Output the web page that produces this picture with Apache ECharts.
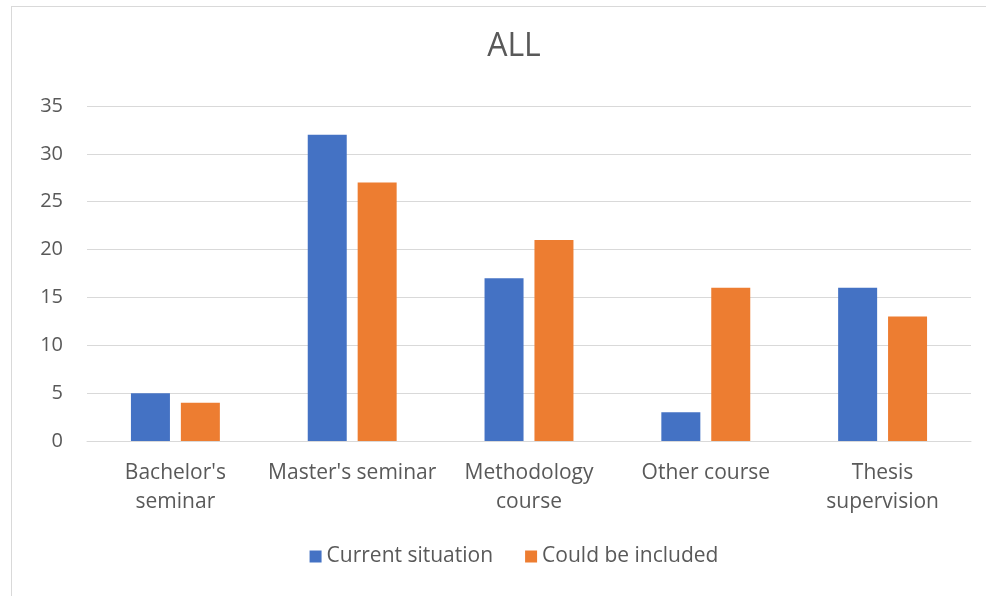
<!DOCTYPE html>
<html><head><meta charset="utf-8">
<script src="https://cdn.jsdelivr.net/npm/echarts@6/dist/echarts.min.js"></script>
<style>
html,body{margin:0;padding:0;background:#fff;overflow:hidden;width:986px;height:596px;}
#frame{position:absolute;left:11px;top:6px;width:1000px;height:620px;border:1px solid #d9d9d9;box-sizing:border-box;}
#c{position:absolute;left:0;top:0;width:1028px;height:596px;}
</style></head>
<body>
<div id="frame"></div>
<div id="c"></div>
<script>
const categories = ["Bachelor's\nseminar", "Master's seminar", "Methodology\ncourse", "Other course", "Thesis\nsupervision"];
const currentSituation = [5, 32, 17, 3, 16];
const couldBeIncluded = [4, 27, 21, 16, 13];
const seriesNames = ["Current situation", "Could be included"];
const txt = '#595959';
const font = '"Open Sans", "Noto Sans", sans-serif';
const chart = echarts.init(document.getElementById('c'));
chart.setOption({
  backgroundColor: 'transparent',
  animation: false,
  title: {text: 'ALL', left: 'center', top: 26, textStyle: {color: txt, fontSize: 32, fontWeight: 'normal', fontFamily: font}},
  legend: {bottom: 24, left: 'center', itemWidth: 12, itemHeight: 12, itemGap: 32, icon: 'rect',
    textStyle: {color: txt, fontSize: 21, fontFamily: font}, data: seriesNames},
  grid: {left: 87, right: 57, top: 106, bottom: 155},
  xAxis: {type: 'category', data: categories,
    axisLine: {lineStyle: {color: '#d9d9d9'}}, axisTick: {show: false},
    axisLabel: {color: txt, fontSize: 21, fontFamily: font, margin: 18, lineHeight: 29, interval: 0}},
  yAxis: {type: 'value', min: 0, max: 35, interval: 5,
    axisLine: {show: false}, axisTick: {show: false},
    splitLine: {lineStyle: {color: '#d9d9d9'}},
    axisLabel: {color: txt, fontSize: 20, fontFamily: font, margin: 24}},
  series: [
    {name: seriesNames[0], type: 'bar', data: currentSituation, barWidth: 39, barGap: '28%', itemStyle: {color: '#4472c4'}},
    {name: seriesNames[1], type: 'bar', data: couldBeIncluded, barWidth: 39, itemStyle: {color: '#ed7d31'}}
  ]
});
</script>
</body></html>
